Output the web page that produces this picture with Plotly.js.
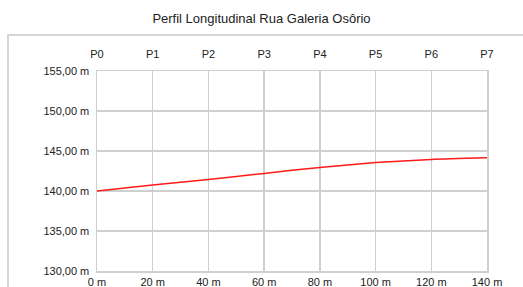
<!DOCTYPE html>
<html>
<head>
<meta charset="utf-8">
<script src="https://cdn.plot.ly/plotly-3.0.1.min.js"></script>
<style>html,body{margin:0;padding:0;background:#fff;}#chart{width:523px;height:287px;}</style>
</head>
<body>
<div id="chart"></div>
<script>
const distances = [0, 20, 40, 60, 80, 100, 120, 140];
const elevations = [140.0, 140.75, 141.45, 142.2, 142.95, 143.55, 143.95, 144.15];
const stations = ["P0", "P1", "P2", "P3", "P4", "P5", "P6", "P7"];
const yTicks = [130, 135, 140, 145, 150, 155];
const titleText = "Perfil Longitudinal Rua Galeria Osôrio";

const font = {family: "Liberation Sans, Arial, sans-serif", size: 11, color: "#222"};

const data = [
  {x: distances, y: elevations, type: "scatter", mode: "lines",
   line: {color: "#ff1a1a", width: 1.5, shape: "spline", smoothing: 0.6},
   hoverinfo: "skip", showlegend: false},
  {x: distances, y: elevations, xaxis: "x2", type: "scatter", mode: "none",
   hoverinfo: "skip", showlegend: false}
];

const L = 97, R = 36, T = 71, B = 16;
const PW = 523 - L - R, PH = 287 - T - B;

const layout = {
  width: 523, height: 287,
  margin: {l: L, r: R, t: T, b: B},
  paper_bgcolor: "#fff", plot_bgcolor: "#fff",
  font: font,
  separators: ",.",
  title: {text: titleText, font: {family: font.family, size: 13, color: "#222"}, x: 0.5, xanchor: "center", y: 0.935, yanchor: "middle"},
  xaxis: {
    range: [0, 140], tickvals: distances, ticktext: distances.map(d => d + " m"),
    showgrid: true, gridcolor: "#cfcfcf", gridwidth: 1.5,
    showline: true, linecolor: "#cfcfcf", linewidth: 1.5, mirror: true,
    zeroline: false, ticks: "", ticklen: 0, tickfont: font, fixedrange: true
  },
  xaxis2: {
    range: [0, 140], overlaying: "x", side: "top", tickvals: distances, ticktext: stations,
    showgrid: false, showline: false, zeroline: false,
    ticks: "outside", ticklen: 8, tickcolor: "rgba(0,0,0,0)", tickfont: font,
    anchor: "y", fixedrange: true
  },
  yaxis: {
    range: [130, 155], tickvals: yTicks, ticktext: yTicks.map(v => v.toFixed(2).replace(".", ",") + " m"),
    showgrid: true, gridcolor: "#cfcfcf", gridwidth: 1.5,
    showline: true, linecolor: "#cfcfcf", linewidth: 1.5, mirror: true,
    zeroline: false, ticks: "outside", ticklen: 4, tickcolor: "rgba(0,0,0,0)", tickfont: font, fixedrange: true
  },
  shapes: [
    {type: "rect", xref: "paper", yref: "paper",
     x0: (8 - L) / PW, x1: (540 - L) / PW, y0: -40 / PH, y1: (287 - B - 35) / PH,
     line: {color: "#d6d6d6", width: 2}, fillcolor: "rgba(0,0,0,0)", layer: "below"}
  ]
};

Plotly.newPlot("chart", data, layout, {staticPlot: true, displayModeBar: false});
</script>
</body>
</html>
